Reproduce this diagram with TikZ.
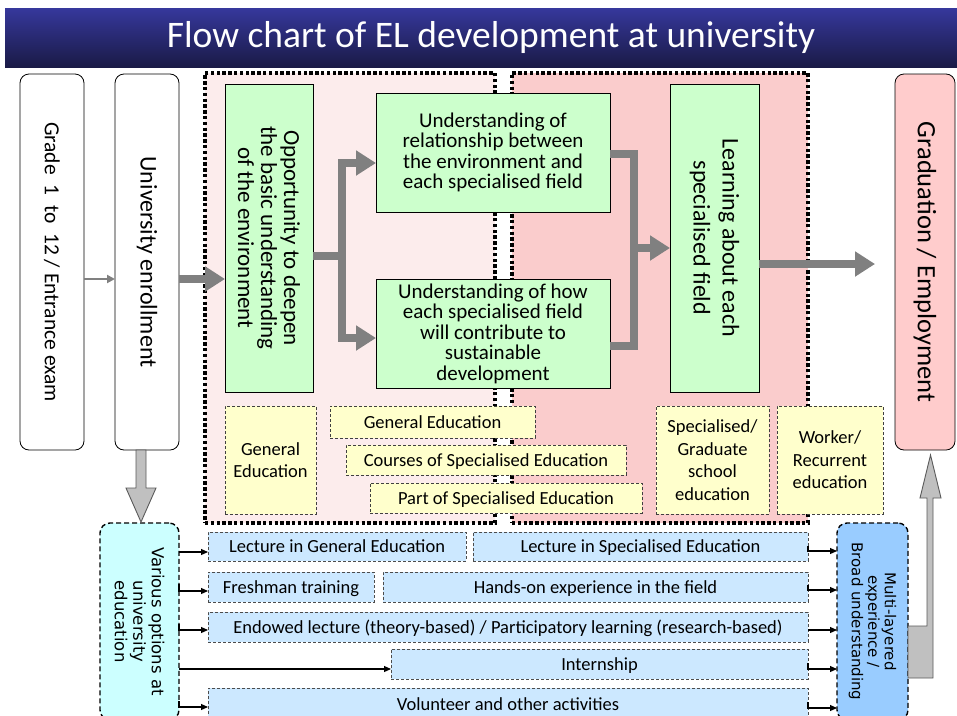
\documentclass[tikz,border=0pt]{standalone}
\usepackage{fontspec}
\setmainfont{Carlito}
\newfontfamily\dvs{DejaVu Sans}
\usetikzlibrary{arrows.meta,calc}
\definecolor{titletop}{RGB}{54,56,156}
\definecolor{titlebot}{RGB}{26,26,70}
\definecolor{boxgreen}{RGB}{204,255,204}
\definecolor{boxyellow}{RGB}{255,255,204}
\definecolor{boxblue}{RGB}{204,232,255}
\definecolor{boxcyan}{RGB}{204,255,255}
\definecolor{boxmulti}{RGB}{153,204,255}
\definecolor{boxgrad}{RGB}{255,204,204}
\definecolor{regionA}{RGB}{252,236,236}
\definecolor{regionB}{RGB}{250,204,204}
\definecolor{arrowgray}{RGB}{128,128,128}
\definecolor{blockgray}{RGB}{192,192,192}
\definecolor{edgegray}{RGB}{90,90,90}
\newcommand\myfs[2]{\fontsize{#1}{#2}\selectfont}
\begin{document}
\begin{tikzpicture}[x=1pt,y=-1pt,
  every node/.style={inner sep=0pt, outer sep=0pt},
  whitebox/.style={draw=black, line width=0.8pt, rounded corners=9pt, fill=white},
  gradbox/.style={whitebox, fill=boxgrad},
  greenbox/.style={draw=black, line width=0.8pt, fill=boxgreen},
  yellowbox/.style={draw=black!75, line width=0.7pt, dash pattern=on 3pt off 2pt, fill=boxyellow},
  bluebox/.style={draw=black!70, line width=0.7pt, dash pattern=on 3pt off 2pt, fill=boxblue},
  optbox/.style={draw=black, line width=1.4pt, dash pattern=on 5pt off 3pt, rounded corners=10pt},
  regionbox/.style={draw=black, line width=3.4pt, dash pattern=on 3.4pt off 2.4pt},
  thickline/.style={draw=arrowgray, line width=8pt},
  thickarrow/.style={thickline, -{Triangle[width=24pt,length=20pt]}},
  thinarrow/.style={draw=black, line width=1.1pt, -{Triangle[width=6pt,length=7pt]}},
  grayarrow/.style={draw=arrowgray, line width=2pt, -{Triangle[width=8pt,length=8pt]}},
  blockarrow/.style={draw=edgegray, line width=0.9pt, fill=blockgray},
  txt/.style={align=center, text=black},
  onel/.style={text height=15pt, text depth=3pt},
  midtxt/.style={txt, font=\myfs{21}{20.5}},
  smalltxt/.style={txt, font=\myfs{18.5}{22.5}},
  rowtxt/.style={txt, onel, font=\myfs{18.5}{20}},
]
\useasboundingbox (0,0) rectangle (957,715);
\fill[white] (0,0) rectangle (957,715);

% title
\node[minimum width=952, minimum height=59, top color=titletop, bottom color=titlebot,
      anchor=north west] (title) at (5,8) {};
\node[text=white, font=\myfs{37.5}{42}] (titleT) at ([xshift=10pt]title.center)
      {Flow chart of EL development at university};

% regions
\node[regionbox, fill=regionA, minimum width=290, minimum height=450] (regA) at (350,298) {};
\node[regionbox, fill=regionB, minimum width=296, minimum height=450] (regB) at (660,298) {};

% left and right tall boxes
\node[whitebox, minimum width=64, minimum height=376] (grade) at (52,262) {};
\node[txt, font=\myfs{21.5}{24}, rotate=-90] (gradeT) at (grade) {Grade\ \ 1\ \ to\ \ 12 / Entrance exam};
\node[whitebox, minimum width=64, minimum height=376] (univ) at (147,262) {};
\node[txt, font=\myfs{24}{26}, rotate=-90] (univT) at (univ) {University enrollment};
\node[gradbox, minimum width=60, minimum height=376] (grad) at (925,262) {};
\node[txt, font=\myfs{26.5}{30}, rotate=-90] (gradT) at (grad) {Graduation / Employment};

% green boxes
\node[greenbox, minimum width=88, minimum height=308] (opp) at (269,238) {};
\node[txt, font=\myfs{23}{23}, rotate=-90] (oppT) at (opp) {Opportunity to deepen\\the basic understanding\\of the environment};
\node[greenbox, minimum width=234, minimum height=119, midtxt] (rel) at (493,152.5)
  {Understanding of\\relationship between\\the environment and\\each specialised field};
\node[greenbox, minimum width=234, minimum height=109, midtxt] (how) at (493,333.5)
  {Understanding of how\\each specialised field\\will contribute to\\sustainable\\development};
\node[greenbox, minimum width=89, minimum height=308] (learn) at (714.5,238) {};
\node[txt, font=\myfs{24}{29}, rotate=-90] (learnT) at (learn) {Learning about each\\specialised field};

% yellow boxes
\node[yellowbox, smalltxt, minimum width=91, minimum height=108] (ge1) at (270.5,460) {General\\Education};
\node[yellowbox, smalltxt, onel, minimum width=205, minimum height=32] (ge2) at (432.5,422) {General Education};
\node[yellowbox, smalltxt, onel, minimum width=280, minimum height=30] (cse) at (486,460) {Courses of Specialised Education};
\node[yellowbox, smalltxt, onel, minimum width=272, minimum height=30] (pse) at (506,498) {Part of Specialised Education};
\node[yellowbox, smalltxt, minimum width=113, minimum height=108] (sgs) at (712.5,460) {Specialised/\\Graduate\\school\\education};
\node[yellowbox, smalltxt, minimum width=106, minimum height=108] (wre) at (830,460) {Worker/\\Recurrent\\education};

% bottom option boxes
\node[optbox, fill=boxcyan, minimum width=79, minimum height=197] (various) at (139.5,621.5) {};
\node[txt, font=\dvs\myfs{16.5}{18.5}, rotate=-90] (variousT) at (various) {Various options at\\university\\education};
\node[optbox, fill=boxmulti, minimum width=71, minimum height=197] (multi) at (872.5,621.5) {};
\node[txt, font=\dvs\myfs{15}{16.5}, rotate=-90] (multiT) at (multi) {Multi-layered\\experience /\\Broad understanding};

% rows
\node[bluebox, rowtxt, minimum width=258, minimum height=29] (r1a) at (337,546.5) {Lecture in General Education};
\node[bluebox, rowtxt, minimum width=335, minimum height=29] (r1b) at (640.5,546.5) {Lecture in Specialised Education};
\node[bluebox, rowtxt, minimum width=166, minimum height=30] (r2a) at (291,587) {Freshman training};
\node[bluebox, rowtxt, minimum width=425, minimum height=30] (r2b) at (595.5,587) {Hands-on experience in the field};
\node[bluebox, rowtxt, minimum width=600, minimum height=30] (r3) at (508,627) {Endowed lecture (theory-based) / Participatory learning (research-based)};
\node[bluebox, rowtxt, minimum width=417, minimum height=30] (r4) at (599.5,664) {Internship};
\node[bluebox, rowtxt, minimum width=600, minimum height=32] (r5) at (508,704) {Volunteer and other activities};

% coordinates
\coordinate (j1) at (342,256);
\coordinate (j2) at (634,248);
\coordinate (gradin) at (875,264);

% arrows top
\draw[grayarrow] (grade.east |- 0,279) -- (univ.west |- 0,279);
\draw[thickarrow] (univ.east |- 0,279) -- (opp.west |- 0,279);
\draw[thickline] (opp.east |- j1) -- ([xshift=4pt]j1);
\draw[thickarrow] (j1) |- (rel.west |- 0,163);
\draw[thickarrow] (j1) |- (how.west |- 0,338);
\draw[thickline] (rel.east |- 0,154) -| (j2) |- (how.east |- 0,346);
\draw[thickarrow] (j2) -- (learn.west |- j2);
\draw[thickarrow] (learn.east |- gradin) -- (gradin);

% block arrows
\draw[blockarrow] (136,450) -- (136,488) -- (126,488) -- (141,522) -- (156,488) -- (146,488) -- (146,450) -- cycle;
\draw[blockarrow] (multi.east |- 0,626) -- (927,626) -- (927,498) -- (920,498) -- (930.5,455)
  -- (941,498) -- (933,498) -- (933,678) -- (multi.east |- 0,678) -- cycle;

% bottom arrows
\draw[thinarrow] (various.east |- 0,552) -- (r1a.west |- 0,552);
\draw[thinarrow] (various.east |- 0,584) |- (r2a.west |- 0,591);
\draw[thinarrow] (various.east |- 0,624) |- (r3.west |- 0,630);
\draw[thinarrow] (various.east |- 0,669) -- (r4.west |- 0,669);
\draw[thinarrow] (various.east |- 0,701) |- (r5.west |- 0,707);
\draw[thinarrow] (r1b.east |- 0,546) |- (multi.west |- 0,551);
\draw[thinarrow] (r2b.east |- 0,585) |- (multi.west |- 0,590);
\draw[thinarrow] (r3.east |- 0,630) -- (multi.west |- 0,630);
\draw[thinarrow] (r4.east |- 0,663) |- (multi.west |- 0,669);
\draw[thinarrow] (r5.east |- 0,702) |- (multi.west |- 0,708);
\end{tikzpicture}
\end{document}
